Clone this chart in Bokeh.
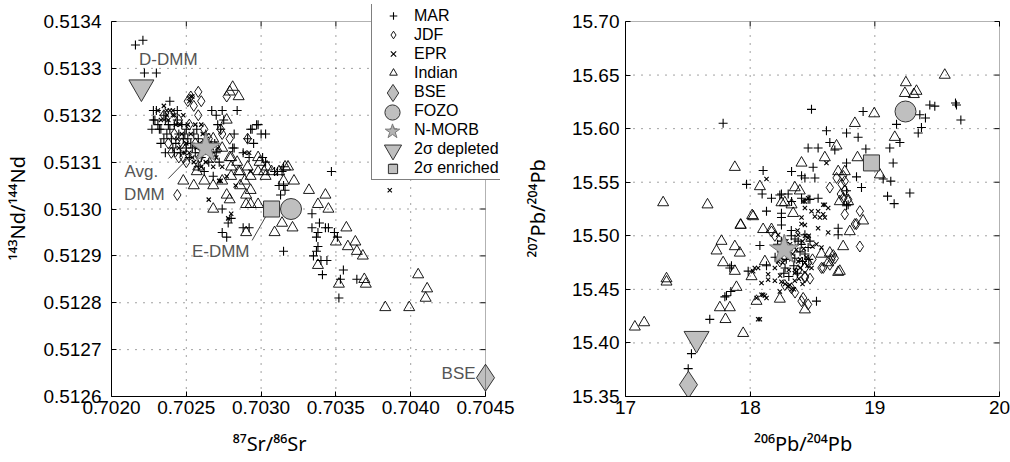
import math
from bokeh.plotting import figure
from bokeh.models import (FixedTicker, PrintfTickFormatter,
                          Legend, LegendItem, Range1d, BoxAnnotation)
from bokeh.layouts import row
from bokeh.embed import file_html
from bokeh.resources import INLINE
from bokeh.core.properties import value

FONT = "Liberation Sans"
TITLE_FONT = "Noto Sans"
NBSP = "\u00a0"

# ---------------- axis ticks ----------------
SR_TICKS = [0.7020, 0.7025, 0.7030, 0.7035, 0.7040, 0.7045]
ND_TICKS = [0.5126, 0.5127, 0.5128, 0.5129, 0.5130, 0.5131, 0.5132, 0.5133, 0.5134]
PB6_TICKS = [17, 18, 19, 20]
PB7_TICKS = [15.35, 15.40, 15.45, 15.50, 15.55, 15.60, 15.65, 15.70]

# ---------------- Sr-Nd data (87Sr/86Sr, 143Nd/144Nd) ----------------
MAR_SR_ND = [
    (0.70216, 0.51335), (0.70221, 0.51336), (0.70222, 0.51329), (0.70230, 0.51329),
    (0.70228, 0.51319), (0.70230, 0.51321), (0.70232, 0.51317), (0.70235, 0.51320),
    (0.70237, 0.51316), (0.70238, 0.51318), (0.70240, 0.51315), (0.70242, 0.51318),
    (0.70243, 0.51314), (0.70245, 0.51316), (0.70246, 0.51312), (0.70248, 0.51315),
    (0.70250, 0.51317), (0.70250, 0.51313), (0.70252, 0.51311), (0.70253, 0.51314),
    (0.70255, 0.51316), (0.70256, 0.51312), (0.70258, 0.51309), (0.70258, 0.51315),
    (0.70260, 0.51311), (0.70262, 0.51308), (0.70265, 0.51310), (0.70268, 0.51307),
    (0.70270, 0.51312), (0.70228, 0.51321), (0.70231, 0.51318), (0.70227, 0.51317),
    (0.70233, 0.51317), (0.70229, 0.51319), (0.70235, 0.51315), (0.70241, 0.51313),
    (0.70242, 0.51312), (0.70267, 0.51321), (0.70270, 0.51320), (0.70274, 0.51321),
    (0.70275, 0.51319), (0.70284, 0.51321), (0.70298, 0.51318), (0.70294, 0.51317),
    (0.70300, 0.51316), (0.70303, 0.51316), (0.70282, 0.51313), (0.70271, 0.51318),
    (0.70273, 0.51317), (0.70282, 0.51316), (0.70293, 0.51317), (0.70297, 0.51318),
    (0.70295, 0.51314), (0.70291, 0.51315), (0.70281, 0.51313), (0.70288, 0.51312),
    (0.70292, 0.51311), (0.70301, 0.51311), (0.70303, 0.51310), (0.70311, 0.51308),
    (0.70315, 0.51309), (0.70314, 0.51308), (0.70312, 0.51305), (0.70315, 0.51305),
    (0.70316, 0.51304), (0.70313, 0.51303), (0.70309, 0.51308), (0.70347, 0.51308),
    (0.70274, 0.51300), (0.70274, 0.51295), (0.70277, 0.51294), (0.70280, 0.51298),
    (0.70278, 0.51297), (0.70288, 0.51296), (0.70292, 0.51296), (0.70334, 0.51299),
    (0.70334, 0.51296), (0.70339, 0.51297), (0.70343, 0.51296), (0.70345, 0.51296),
    (0.70349, 0.51295), (0.70337, 0.51294), (0.70338, 0.51295), (0.70351, 0.51294),
    (0.70338, 0.51292), (0.70337, 0.51291), (0.70335, 0.51290), (0.70315, 0.51291),
    (0.70344, 0.51289), (0.70340, 0.51289), (0.70355, 0.51287), (0.70341, 0.51286),
    (0.70353, 0.51285), (0.70364, 0.51285), (0.70352, 0.51281),
    (0.70236, 0.51319), (0.70239, 0.51317), (0.70244, 0.51319), (0.70247, 0.51318),
    (0.70249, 0.51316), (0.70251, 0.51315), (0.70254, 0.51313), (0.70257, 0.51317),
    (0.70259, 0.51312), (0.70261, 0.51314), (0.70263, 0.51316), (0.70266, 0.51312),
    (0.70269, 0.51314), (0.70272, 0.51310), (0.70244, 0.51321), (0.70239, 0.51323),
    (0.70233, 0.51314), (0.70236, 0.51312),
]
JDF_SR_ND = [
    (0.70258, 0.51325), (0.70277, 0.51324), (0.70274, 0.51316), (0.70245, 0.51311),
    (0.70244, 0.51303), (0.70273, 0.51317), (0.70279, 0.51315), (0.70291, 0.51315),
    (0.70248, 0.51311), (0.70235, 0.51320), (0.70242, 0.51316), (0.70247, 0.51314),
    (0.70252, 0.51318), (0.70255, 0.51322), (0.70258, 0.51320), (0.70262, 0.51317),
    (0.70250, 0.51310), (0.70240, 0.51312), (0.70265, 0.51315), (0.70260, 0.51323),
    (0.70245, 0.51319), (0.70253, 0.51324), (0.70251, 0.51323), (0.70248, 0.51313),
    (0.70256, 0.51314), (0.70238, 0.51314), (0.70268, 0.51311), (0.70259, 0.51311),
]
EPR_SR_ND = [
    (0.70235, 0.51322), (0.70239, 0.51321), (0.70237, 0.51321), (0.70241, 0.51320),
    (0.70253, 0.51324), (0.70265, 0.51302), (0.70272, 0.51306), (0.70289, 0.51312),
    (0.70231, 0.51321), (0.70241, 0.51321), (0.70237, 0.51320), (0.70252, 0.51323),
    (0.70254, 0.51324), (0.70273, 0.51306), (0.70277, 0.51307), (0.70292, 0.51312),
    (0.70278, 0.51298), (0.70280, 0.51299), (0.70293, 0.51308), (0.70243, 0.51318),
    (0.70247, 0.51316), (0.70250, 0.51314), (0.70253, 0.51316), (0.70256, 0.51318),
    (0.70259, 0.51314), (0.70262, 0.51312), (0.70264, 0.51315), (0.70267, 0.51313),
    (0.70270, 0.51311), (0.70245, 0.51313), (0.70255, 0.51310), (0.70260, 0.51309),
    (0.70248, 0.51320), (0.70252, 0.51312), (0.70386, 0.51304), (0.70283, 0.51305),
    (0.70260, 0.51318), (0.70238, 0.51319), (0.70242, 0.51320), (0.70246, 0.51318),
    (0.70249, 0.51312), (0.70251, 0.51318), (0.70254, 0.51311), (0.70257, 0.51313),
    (0.70261, 0.51316), (0.70263, 0.51310), (0.70266, 0.51314), (0.70268, 0.51309),
    (0.70271, 0.51313), (0.70274, 0.51309), (0.70244, 0.51315), (0.70233, 0.51319),
]
IND_SR_ND = [
    (0.70281, 0.51326), (0.70279, 0.51325), (0.70285, 0.51324), (0.70277, 0.51319),
    (0.70268, 0.51315), (0.70248, 0.51306), (0.70255, 0.51305), (0.70262, 0.51306),
    (0.70268, 0.51305), (0.70274, 0.51306), (0.70280, 0.51307), (0.70285, 0.51308),
    (0.70289, 0.51306), (0.70293, 0.51307), (0.70298, 0.51308), (0.70302, 0.51308),
    (0.70307, 0.51308), (0.70257, 0.51308), (0.70258, 0.51309), (0.70279, 0.51311),
    (0.70298, 0.51311), (0.70316, 0.51309), (0.70322, 0.51306), (0.70332, 0.51304),
    (0.70343, 0.51303), (0.70270, 0.51313), (0.70274, 0.51313), (0.70280, 0.51311),
    (0.70284, 0.51310), (0.70280, 0.51309), (0.70286, 0.51308), (0.70291, 0.51309),
    (0.70299, 0.51310), (0.70303, 0.51307), (0.70304, 0.51309), (0.70312, 0.51308),
    (0.70315, 0.51306), (0.70318, 0.51309), (0.70286, 0.51305), (0.70293, 0.51304),
    (0.70290, 0.51303), (0.70293, 0.51301), (0.70298, 0.51301), (0.70290, 0.51301),
    (0.70268, 0.51300), (0.70277, 0.51303), (0.70290, 0.51295), (0.70309, 0.51295),
    (0.70314, 0.51297), (0.70321, 0.51296), (0.70338, 0.51301), (0.70279, 0.51302),
    (0.70345, 0.51300), (0.70357, 0.51296), (0.70350, 0.51293), (0.70363, 0.51293),
    (0.70358, 0.51292), (0.70364, 0.51291), (0.70368, 0.51290), (0.70338, 0.51288),
    (0.70352, 0.51284), (0.70369, 0.51285), (0.70370, 0.51284), (0.70383, 0.51279),
    (0.70399, 0.51279), (0.70405, 0.51286), (0.70411, 0.51283), (0.70410, 0.51281),
]
# end-members (Sr, Nd)
BSE_SR_ND = (0.70450, 0.51264)
FOZO_SR_ND = (0.70320, 0.51300)
NMORB_SR_ND = (0.70263, 0.51313)
DEP_SR_ND = (0.70220, 0.51326)
ENR_SR_ND = (0.70307, 0.51300)

# ---------------- Pb data (206Pb/204Pb, 207Pb/204Pb) ----------------
MAR_PB = [
    (17.783, 15.605), (18.492, 15.618), (18.906, 15.616), (19.441, 15.622), (19.481, 15.621),
    (19.647, 15.624), (19.655, 15.622), (19.690, 15.608), (19.361, 15.613), (19.406, 15.610),
    (19.374, 15.601), (19.348, 15.596), (19.174, 15.604), (19.201, 15.587), (19.120, 15.582),
    (18.928, 15.581), (18.612, 15.598), (18.773, 15.596), (18.866, 15.592), (18.639, 15.587),
    (18.679, 15.580), (18.465, 15.582), (18.545, 15.582), (19.147, 15.568), (18.773, 15.568),
    (18.853, 15.555), (18.893, 15.545), (19.067, 15.553), (19.128, 15.551), (19.102, 15.537),
    (19.155, 15.530), (19.281, 15.540), (18.104, 15.561), (18.332, 15.560), (18.505, 15.564),
    (18.519, 15.554), (18.412, 15.556), (18.439, 15.554), (17.971, 15.548), (18.096, 15.539),
    (18.171, 15.535), (18.251, 15.539), (18.131, 15.523), (18.251, 15.521), (18.251, 15.517),
    (18.251, 15.510), (18.332, 15.532), (18.412, 15.535), (18.465, 15.534), (18.545, 15.535),
    (18.773, 15.542), (18.786, 15.529), (18.706, 15.507), (18.706, 15.501), (18.078, 15.491),
    (17.850, 15.472), (17.984, 15.467), (18.131, 15.472), (17.797, 15.443), (18.532, 15.439),
    (18.238, 15.538), (18.305, 15.539), (18.479, 15.534), (18.773, 15.528), (17.837, 15.470),
    (17.810, 15.444), (17.845, 15.448), (17.676, 15.422), (17.529, 15.390), (17.503, 15.376),
    (18.305, 15.486), (18.385, 15.495), (18.358, 15.479), (18.465, 15.489), (18.439, 15.501),
    (18.200, 15.480), (18.280, 15.470), (18.330, 15.500), (18.400, 15.485), (18.250, 15.495),
    (18.330, 15.505), (18.360, 15.497), (18.410, 15.492), (18.440, 15.483), (18.470, 15.478),
    (18.290, 15.478), (18.250, 15.485), (18.220, 15.492), (18.350, 15.472), (18.380, 15.465),
    (18.420, 15.476), (18.480, 15.495), (18.310, 15.462), (18.270, 15.465),
]
EPR_PB = [
    (18.612, 15.568), (18.131, 15.553), (18.425, 15.532), (18.465, 15.535), (18.599, 15.529),
    (18.439, 15.526), (18.492, 15.523), (18.559, 15.517), (18.586, 15.520), (18.412, 15.517),
    (18.439, 15.510), (18.545, 15.507), (18.626, 15.503), (18.532, 15.492), (18.572, 15.489),
    (18.385, 15.501), (18.465, 15.498), (18.385, 15.476), (18.439, 15.475), (18.492, 15.470),
    (18.358, 15.465), (18.198, 15.470), (18.225, 15.476), (18.144, 15.459), (18.091, 15.456),
    (18.091, 15.445), (18.131, 15.442), (18.251, 15.457), (18.318, 15.454), (18.024, 15.467),
    (18.037, 15.470), (18.225, 15.501), (18.278, 15.495), (18.051, 15.442), (18.104, 15.445),
    (18.078, 15.422), (18.305, 15.453), (18.332, 15.450), (18.358, 15.458), (18.198, 15.458),
    (18.238, 15.448), (18.064, 15.470), (18.144, 15.464), (18.586, 15.529), (18.626, 15.526),
    (18.545, 15.523), (18.439, 15.532), (18.519, 15.518), (18.599, 15.517), (18.412, 15.511),
    (18.064, 15.422), (18.118, 15.444), (18.300, 15.485), (18.350, 15.490), (18.420, 15.495),
    (18.380, 15.505), (18.330, 15.478), (18.260, 15.488), (18.450, 15.480), (18.400, 15.470),
    (18.320, 15.492), (18.340, 15.483), (18.370, 15.487), (18.400, 15.478), (18.430, 15.488),
    (18.460, 15.472), (18.290, 15.495), (18.260, 15.475), (18.310, 15.468), (18.360, 15.468),
    (18.390, 15.460), (18.420, 15.455), (18.350, 15.450), (18.280, 15.455), (18.240, 15.463),
    (18.470, 15.500), (18.500, 15.490), (18.440, 15.500),
]
JDF_PB = [
    (18.639, 15.545), (18.733, 15.548), (18.759, 15.542), (18.746, 15.535), (18.693, 15.554),
    (18.746, 15.556), (18.759, 15.551), (18.759, 15.520), (18.853, 15.511), (18.880, 15.490),
    (18.666, 15.482), (18.679, 15.479), (18.639, 15.473), (18.586, 15.470), (18.439, 15.470),
    (18.439, 15.461), (18.278, 15.481), (18.238, 15.476), (18.412, 15.439), (18.465, 15.436),
    (18.332, 15.451), (18.278, 15.454), (18.171, 15.504), (18.198, 15.500), (18.840, 15.511),
    (18.880, 15.523), (18.652, 15.478), (18.425, 15.442), (18.465, 15.475), (18.439, 15.462),
    (18.385, 15.468), (18.727, 15.539), (18.786, 15.534), (18.572, 15.470),
    (18.480, 15.460), (18.500, 15.478), (18.360, 15.447),
]
IND_PB = [
    (19.561, 15.650), (19.249, 15.643), (19.241, 15.633), (19.334, 15.635), (19.313, 15.632),
    (18.995, 15.614), (18.840, 15.605), (19.160, 15.592), (18.693, 15.584), (18.599, 15.573),
    (18.412, 15.568), (18.861, 15.573), (17.877, 15.564), (18.706, 15.560), (18.759, 15.560),
    (18.078, 15.546), (19.040, 15.557), (18.358, 15.545), (18.398, 15.542), (18.719, 15.532),
    (18.786, 15.532), (17.658, 15.529), (18.278, 15.531), (18.345, 15.521), (18.016, 15.519),
    (17.925, 15.510), (18.104, 15.506), (18.171, 15.506), (18.906, 15.514), (18.799, 15.504),
    (17.770, 15.495), (17.730, 15.486), (17.877, 15.490), (17.917, 15.484), (17.783, 15.475),
    (17.877, 15.467), (18.011, 15.462), (18.118, 15.476), (18.746, 15.490), (18.639, 15.484),
    (18.626, 15.475), (18.706, 15.466), (18.238, 15.441), (18.051, 15.439), (17.890, 15.452),
    (17.757, 15.433), (17.837, 15.433), (17.302, 15.531), (18.024, 15.518), (17.922, 15.510),
    (17.329, 15.460), (17.329, 15.457), (17.802, 15.422), (17.944, 15.409), (17.150, 15.419),
    (17.075, 15.415), (18.439, 15.431), (18.719, 15.467), (18.572, 15.483), (18.332, 15.529),
    (18.251, 15.531),
]
BSE_PB = (17.505, 15.361)
FOZO_PB = (19.246, 15.616)
NMORB_PB = (18.273, 15.487)
DEP_PB = (17.570, 15.404)
ENR_PB = (18.973, 15.568)

# annotations on the Sr-Nd panel: (text, Sr, Nd)
SR_ND_NOTES = [("D-DMM", 0.70238, 0.51332), ("Avg.", 0.70220, 0.51308),
               ("DMM", 0.70222, 0.51303), ("E-DMM", 0.70273, 0.51291),
               ("BSE", 0.70432, 0.51265)]
SR_ND_LEADERS = [((0.70238, 0.70253), (0.513065, 0.513114)),
                 ((0.70294, 0.70306), (0.512933, 0.513000))]

LEGEND_NAMES = ["MAR", "JDF", "EPR", "Indian", "BSE", "FOZO", "N-MORB",
                "2\u03c3 depleted", "2\u03c3 enriched"]

GRAY = "#bfbfbf"
EDGE = "#333333"
NOTE_COLOR = "#555555"
GRID_COLOR = "#444444"

BOX_W, BOX_H = 374, 375      # size of the axes box in pixels
TOP, BOTTOM = 4, 66          # figure borders


def xs(pts):
    return [a for a, _ in pts]


def ys(pts):
    return [b for _, b in pts]


def make_panel(bl, br, xt, yt, xfmt, yfmt, ystand,
               xlabel, ylabel, xlab_standoff, ylab_standoff, ext_right, ext_top=17):
    """The plotting frame extends ext_right / ext_top pixels beyond the axes box so that
    the legend can overlap the box edge as in the original figure."""
    x_end = xt[-1] + (xt[-1] - xt[0]) * ext_right / BOX_W
    y_end = yt[-1] + (yt[-1] - yt[0]) * ext_top / BOX_H
    p = figure(frame_width=BOX_W + ext_right, frame_height=BOX_H + ext_top,
               x_range=Range1d(xt[0], x_end), y_range=Range1d(yt[0], y_end),
               output_backend="svg", toolbar_location=None,
               min_border_left=bl, min_border_right=br,
               min_border_top=TOP, min_border_bottom=BOTTOM)
    p.background_fill_color = "white"
    p.border_fill_color = "white"
    p.outline_line_color = None
    p.grid.visible = False
    p.xaxis.ticker = FixedTicker(ticks=xt)
    p.yaxis.ticker = FixedTicker(ticks=yt)
    p.xaxis.formatter = PrintfTickFormatter(format=xfmt)
    p.yaxis.formatter = PrintfTickFormatter(format=yfmt)
    p.xaxis.bounds = (xt[0], xt[-1])
    p.yaxis.bounds = (yt[0], yt[-1])
    for ax in (p.xaxis[0], p.yaxis[0]):
        ax.major_tick_in = 5
        ax.major_tick_out = 0
        ax.minor_tick_in = 0
        ax.minor_tick_out = 0
        ax.axis_line_color = "black"
        ax.axis_line_width = 1
        ax.major_tick_line_color = "black"
        ax.major_label_text_font = FONT
        ax.major_label_text_font_size = "19px"
        ax.major_label_text_color = "black"
        ax.axis_label_text_font = TITLE_FONT
        ax.axis_label_text_font_size = "20px"
        ax.axis_label_text_font_style = "normal"
        ax.axis_label_text_color = "black"
    p.xaxis.major_label_standoff = 4
    p.yaxis.major_label_standoff = ystand
    p.xaxis.axis_label = xlabel
    p.yaxis.axis_label = ylabel
    p.xaxis.axis_label_standoff = xlab_standoff
    p.yaxis.axis_label_standoff = ylab_standoff

    # dotted grid inside the box
    inner_x = xt[1:-1]
    inner_y = yt[1:-1]
    p.segment(x0=inner_x, y0=[yt[0]] * len(inner_x), x1=inner_x, y1=[yt[-1]] * len(inner_x),
              line_color=GRID_COLOR, line_dash="1 7", line_width=1)
    p.segment(x0=[xt[0]] * len(inner_y), y0=inner_y, x1=[xt[-1]] * len(inner_y), y1=inner_y,
              line_color=GRID_COLOR, line_dash="1 7", line_width=1)
    # mirrored ticks on the top and right edges of the box
    p.ray(x=xt, y=[yt[-1]] * len(xt), length=5, length_units="screen",
          angle=-math.pi / 2, line_color="black", line_width=1)
    p.ray(x=[xt[-1]] * len(yt), y=yt, length=5, length_units="screen",
          angle=math.pi, line_color="black", line_width=1)
    p.add_layout(BoxAnnotation(left=xt[0], right=xt[-1], bottom=yt[0], top=yt[-1],
                               fill_color=None, fill_alpha=0, line_color="black",
                               line_width=1))
    return p


def add_series(p, mar, jdf, epr, ind, bse, fozo, nmorb, dep, enr):
    r_mar = p.scatter(xs(mar), ys(mar), marker="cross", size=9, line_color="black", line_width=1.1)
    r_jdf = p.scatter(xs(jdf), ys(jdf), marker="diamond", size=11, fill_color=None,
                      line_color="black", line_width=0.9)
    r_epr = p.scatter(xs(epr), ys(epr), marker="x", size=6, line_color="black", line_width=1.1)
    r_ind = p.scatter(xs(ind), ys(ind), marker="triangle", size=11, fill_color=None,
                      line_color="black", line_width=0.9)
    r_bse = p.scatter([bse[0]], [bse[1]], marker="diamond", size=27, fill_color=GRAY,
                      line_color=EDGE, line_width=1)
    r_fozo = p.scatter([fozo[0]], [fozo[1]], marker="circle", size=21, fill_color=GRAY,
                       line_color=EDGE, line_width=1)
    r_nmorb = p.scatter([nmorb[0]], [nmorb[1]], marker="star", size=31, fill_color="#b3b3b3",
                        line_color="#7a7a7a", line_width=1)
    r_dep = p.scatter([dep[0]], [dep[1]], marker="inverted_triangle", size=25, fill_color=GRAY,
                      line_color=EDGE, line_width=1)
    r_enr = p.scatter([enr[0]], [enr[1]], marker="square", size=16, fill_color=GRAY,
                      line_color=EDGE, line_width=1)
    return [r_mar, r_jdf, r_epr, r_ind, r_bse, r_fozo, r_nmorb, r_dep, r_enr]


# ---------------- left panel ----------------
p1 = make_panel(111, 20, SR_TICKS, ND_TICKS, "%.4f", "%.4f", 10,
                "\u2078\u2077Sr/\u2078\u2076Sr" + NBSP * 14,
                "\u00b9\u2074\u00b3Nd/\u00b9\u2074\u2074Nd" + NBSP * 3,
                13, 9, ext_right=15)
for (lx, ly) in SR_ND_LEADERS:
    p1.line(list(lx), list(ly), line_color="#444444", line_width=1)
rs1 = add_series(p1, MAR_SR_ND, JDF_SR_ND, EPR_SR_ND, IND_SR_ND,
                 BSE_SR_ND, FOZO_SR_ND, NMORB_SR_ND, DEP_SR_ND, ENR_SR_ND)
p1.text([n[1] for n in SR_ND_NOTES], [n[2] for n in SR_ND_NOTES],
        text=[n[0] for n in SR_ND_NOTES], text_font=value(FONT), text_font_size="17px",
        text_color=NOTE_COLOR, text_align="center", text_baseline="middle")

legend = Legend(items=[LegendItem(label=n, renderers=[r]) for n, r in zip(LEGEND_NAMES, rs1)],
                location=(260, 216), orientation="vertical", glyph_height=19, glyph_width=38,
                label_height=19, label_width=0, padding=2, spacing=0, margin=0,
                label_standoff=2, label_text_font=FONT, label_text_font_size="16px",
                label_text_color="black", border_line_color="black", border_line_width=1,
                background_fill_color="white", background_fill_alpha=1.0)
p1.add_layout(legend)

# enlarged symbols for the end-member rows of the legend
ROW_CENTERS = [16.5 + 19 * i for i in range(9)]
BIG_GLYPHS = [(4, 43), (5, 38), (6, 38), (7, 43), (8, 23)]
for idx, g in BIG_GLYPHS:
    yc = ROW_CENTERS[idx]
    ov = Legend(items=[LegendItem(label=" ", renderers=[rs1[idx]])],
                location=(281 - g / 2.0, 396 - yc - g / 2.0), glyph_height=g, glyph_width=g,
                label_height=0, label_width=0, padding=0, spacing=0, margin=0,
                label_standoff=0, label_text_font_size="1px",
                border_line_alpha=0, background_fill_alpha=0)
    p1.add_layout(ov)

# ---------------- right panel ----------------
p2 = make_panel(104, 10, PB6_TICKS, PB7_TICKS, "%d", "%.2f", 6,
                "\u00b2\u2070\u2076Pb/\u00b2\u2070\u2074Pb" + NBSP * 4,
                "\u00b2\u2070\u2077Pb/\u00b2\u2070\u2074Pb" + NBSP * 3,
                13, 18, ext_right=2)
add_series(p2, MAR_PB, JDF_PB, EPR_PB, IND_PB, BSE_PB, FOZO_PB, NMORB_PB, DEP_PB, ENR_PB)

layout = row(p1, p2)
open("out.html", "w").write(file_html(layout, INLINE))
